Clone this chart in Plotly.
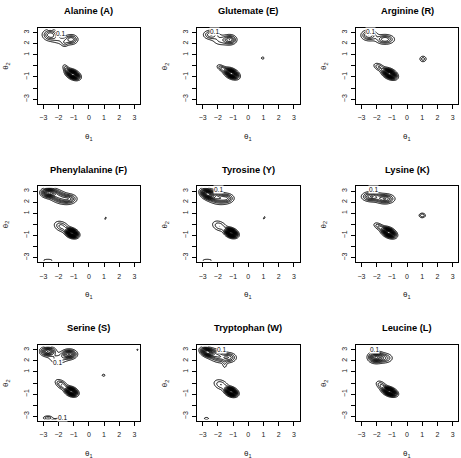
import numpy as np
import plotly.graph_objects as go

W, H = 461, 458

TITLES = ["Alanine (A)", "Glutemate (E)", "Arginine (R)",
          "Phenylalanine (F)", "Tyrosine (Y)", "Lysine (K)",
          "Serine (S)", "Tryptophan (W)", "Leucine (L)"]

# density modes: panel index, centre, spread, correlation, peak height
COMP_PANEL = [0, 0, 0, 0, 0, 0,
              1, 1, 1, 1, 1, 1,
              2, 2, 2, 2, 2,
              3, 3, 3, 3, 3, 3, 3,
              4, 4, 4, 4, 4, 4, 4,
              5, 5, 5, 5, 5,
              6, 6, 6, 6, 6, 6, 6, 6, 6,
              7, 7, 7, 7, 7, 7, 7,
              8, 8, 8, 8]
COMP_X = [-1.05, -1.5, -2.55, -1.15, -1.9, -1.6,
          -1.1, -1.75, -2.45, -1.2, -1.8, 0.95,
          -1.15, -1.85, -2.5, -1.45, 1.05,
          -1.12, -1.8, -2.65, -2.0, -1.3, 1.1, -2.7,
          -1.12, -1.9, -2.7, -2.1, -1.4, 1.05, -2.7,
          -1.2, -1.85, -2.35, -1.45, 1.0,
          -1.15, -1.8, -2.7, -1.3, -2.0, 0.97, -2.7, -1.9, 3.2,
          -1.12, -1.8, -2.7, -2.0, -1.25, -1.55, -2.75,
          -1.15, -1.7, -2.05, -1.45]
COMP_Y = [-0.78, -0.25, 2.8, 2.38, 2.35, 2.0,
          -0.7, -0.2, 2.8, 2.35, 2.3, 0.7,
          -0.72, -0.1, 2.75, 2.38, 0.62,
          -0.8, -0.2, 2.85, 2.5, 2.3, 0.55, -3.25,
          -0.78, -0.15, 2.75, 2.45, 2.35, 0.58, -3.25,
          -0.75, -0.2, 2.5, 2.3, 0.8,
          -0.78, -0.15, 2.85, 2.6, 2.2, 0.7, -3.15, -3.25, 3.0,
          -0.8, -0.15, 2.8, 2.45, 2.3, 1.7, -3.2,
          -0.78, -0.2, 2.32, 2.25]
COMP_SX = [0.24, 0.15, 0.3, 0.25, 0.45, 0.15,
           0.25, 0.2, 0.3, 0.25, 0.35, 0.1,
           0.25, 0.22, 0.3, 0.35, 0.15,
           0.22, 0.3, 0.28, 0.4, 0.3, 0.06, 0.3,
           0.22, 0.3, 0.25, 0.4, 0.28, 0.07, 0.3,
           0.25, 0.22, 0.35, 0.35, 0.14,
           0.22, 0.25, 0.28, 0.28, 0.4, 0.1, 0.2, 0.35, 0.06,
           0.22, 0.3, 0.25, 0.4, 0.28, 0.1, 0.15,
           0.25, 0.22, 0.28, 0.3]
COMP_SY = [0.24, 0.25, 0.3, 0.25, 0.3, 0.2,
           0.25, 0.2, 0.25, 0.25, 0.3, 0.1,
           0.25, 0.22, 0.28, 0.25, 0.18,
           0.22, 0.3, 0.24, 0.35, 0.25, 0.14, 0.1,
           0.22, 0.3, 0.26, 0.35, 0.25, 0.14, 0.1,
           0.25, 0.22, 0.25, 0.25, 0.14,
           0.22, 0.28, 0.24, 0.24, 0.3, 0.1, 0.12, 0.08, 0.08,
           0.22, 0.3, 0.24, 0.35, 0.25, 0.3, 0.1,
           0.22, 0.25, 0.28, 0.26]
COMP_RHO = [-0.4, -0.5, 0.0, 0.0, -0.3, 0.0,
            -0.4, -0.5, 0.0, 0.0, 0.0, 0.0,
            -0.4, -0.4, 0.0, 0.0, 0.0,
            -0.3, -0.3, 0.0, -0.4, 0.0, 0.7, 0.0,
            -0.3, -0.3, -0.3, -0.3, 0.0, 0.7, 0.0,
            -0.4, -0.5, 0.0, 0.0, 0.0,
            -0.3, -0.5, 0.0, 0.0, 0.0, 0.0, 0.0, 0.0, 0.0,
            -0.3, -0.3, -0.3, -0.3, 0.0, 0.0, 0.0,
            -0.4, -0.4, 0.0, 0.0]
COMP_AMP = [1.6, 0.25, 0.45, 0.45, 0.2, 0.16,
            1.6, 0.3, 0.4, 0.55, 0.22, 0.15,
            1.7, 0.3, 0.5, 0.5, 0.25,
            2.0, 0.35, 0.9, 0.6, 0.45, 0.14, 0.15,
            2.0, 0.3, 1.1, 0.6, 0.4, 0.14, 0.15,
            1.7, 0.3, 0.6, 0.6, 0.3,
            1.6, 0.4, 0.8, 0.8, 0.25, 0.15, 0.3, 0.15, 0.13,
            1.8, 0.3, 1.1, 0.5, 0.4, 0.15, 0.15,
            1.8, 0.3, 0.9, 0.35]

LABEL_PANEL = [0, 1, 2, 4, 5, 6, 6, 7, 8]
LABEL_X = [-1.85, -2.25, -2.4, -1.95, -2.22, -2.04, -1.72, -1.73, -2.12]
LABEL_Y = [2.95, 3.05, 3.05, 3.1, 3.1, 1.86, -3.1, 3.0, 3.0]

X_TICKS = [-3, -2, -1, 0, 1, 2, 3]
X_TICKTEXT = ["\u22123", "\u22122", "\u22121", "0", "1", "2", "3"]
Y_TICKS = [-3, -1, 1, 2, 3]
Y_TICKTEXT = ["\u22123", "\u22121", "1", "2", "3"]
Y_UNLABELLED = [-2, 0]

# layout in pixels
COL_X = [(37.7, 140.0), (197.0, 299.5), (355.8, 458.3)]
ROW_Y = [(27.7, 104.0), (186.3, 262.3), (345.0, 421.0)]
XR = [-3.37, 3.37]
YR = [-3.43, 3.43]
FONT = "Liberation Sans, Arial, sans-serif"

grid = np.linspace(-3.3, 3.3, 161)
GX, GY = np.meshgrid(grid, grid)

fig = go.Figure()
annotations = []
for p in range(9):
    z = np.zeros_like(GX)
    for k in range(len(COMP_PANEL)):
        if COMP_PANEL[k] != p:
            continue
        dx = (GX - COMP_X[k]) / COMP_SX[k]
        dy = (GY - COMP_Y[k]) / COMP_SY[k]
        r = COMP_RHO[k]
        q = (dx * dx - 2 * r * dx * dy + dy * dy) / (1 - r * r)
        z += COMP_AMP[k] * np.exp(-0.5 * q)
    sfx = "" if p == 0 else str(p + 1)
    fig.add_trace(go.Contour(
        x=grid, y=grid, z=z, xaxis="x" + sfx, yaxis="y" + sfx,
        contours=dict(coloring="none", start=0.1, end=5.0, size=0.1),
        line=dict(color="black", width=1), showscale=False,
        hoverinfo="skip"))
    c, rw = p % 3, p // 3
    x0, x1 = COL_X[c]
    y0, y1 = ROW_Y[rw]
    common = dict(showline=True, linecolor="black", linewidth=1, mirror=True,
                  ticks="outside", ticklen=4, tickwidth=1, tickcolor="black",
                  showgrid=False, zeroline=False,
                  tickfont=dict(family=FONT, size=7, color="#222"))
    fig.layout["xaxis" + sfx] = dict(domain=[x0 / W, x1 / W], range=XR,
                                     anchor="y" + sfx, tickvals=X_TICKS, ticktext=X_TICKTEXT,
                                     ticklabelstandoff=3, **common)
    fig.layout["yaxis" + sfx] = dict(domain=[1 - y1 / H, 1 - y0 / H], range=YR,
                                     anchor="x" + sfx, tickvals=Y_TICKS, ticktext=Y_TICKTEXT,
                                     minor=dict(tickvals=Y_UNLABELLED, ticks="outside", ticklen=4,
                                                tickwidth=1, tickcolor="black", showgrid=False),
                                     tickangle=-90, ticklabelstandoff=1, **common)
    cx = (x0 + x1) / 2
    cy = (y0 + y1) / 2
    annotations.append(dict(text="<b>" + TITLES[p] + "</b>", x=cx / W, y=1 - (y0 - 16.7) / H,
                            xref="paper", yref="paper", showarrow=False,
                            font=dict(family=FONT, size=9.3, color="black"),
                            xanchor="center", yanchor="middle"))
    annotations.append(dict(text="\u03b8<sub>1</sub>", x=cx / W, y=1 - (y1 + 32.7) / H,
                            xref="paper", yref="paper", showarrow=False,
                            font=dict(family=FONT, size=8, color="#222"),
                            xanchor="center", yanchor="middle"))
    annotations.append(dict(text="\u03b8<sub>2</sub>", x=(x0 - 31.7) / W, y=1 - cy / H,
                            xref="paper", yref="paper", showarrow=False, textangle=-90,
                            font=dict(family=FONT, size=8, color="#222"),
                            xanchor="center", yanchor="middle"))

for i in range(len(LABEL_PANEL)):
    p = LABEL_PANEL[i]
    sfx = "" if p == 0 else str(p + 1)
    annotations.append(dict(text="0.1", x=LABEL_X[i], y=LABEL_Y[i],
                            xref="x" + sfx, yref="y" + sfx, showarrow=False,
                            font=dict(family=FONT, size=6.5, color="black"),
                            bgcolor="white", borderpad=0))

fig.update_layout(width=W, height=H, margin=dict(l=0, r=0, t=0, b=0),
                  plot_bgcolor="white", paper_bgcolor="white",
                  showlegend=False, annotations=annotations)
fig.write_html("out.html")
